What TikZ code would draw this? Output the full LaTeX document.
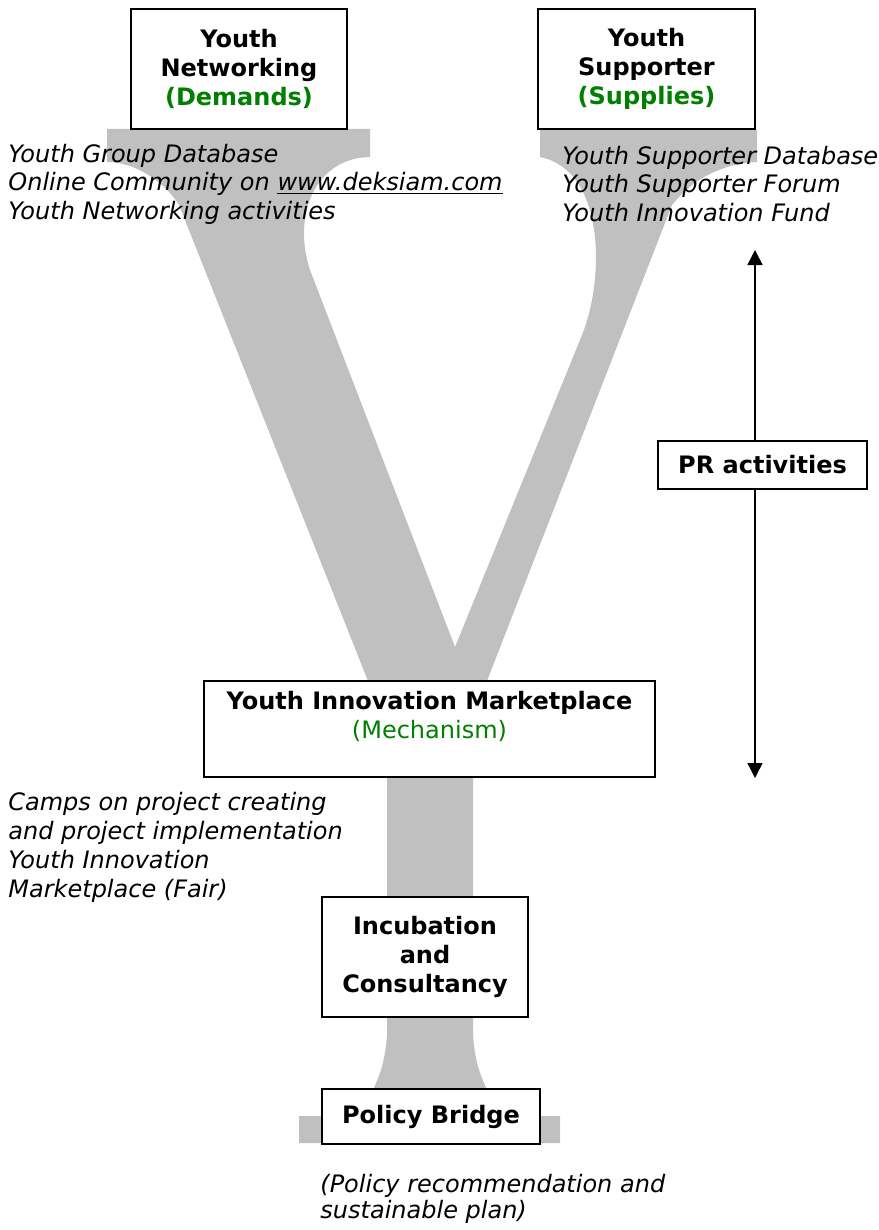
\documentclass[tikz,border=0pt]{standalone}
\usepackage{fontspec}
\setmainfont{DejaVu Sans}
\usetikzlibrary{positioning}
\usetikzlibrary{arrows.meta}
\definecolor{ygray}{RGB}{192,192,192}
\definecolor{ygreen}{RGB}{0,128,0}
\tikzstyle{ybox} = [draw, fill=white, line width=0.75pt, align=center, inner sep=0pt, font=\fontsize{12}{14.5}\selectfont\bfseries]
\tikzstyle{notes} = [anchor=west, align=left, inner sep=0pt, font=\fontsize{12}{14.25}\selectfont\itshape]
\tikzstyle{prarrow} = [line width=0.75pt, -{Triangle[width=7.5pt,length=7.5pt]}]

\begin{document}
\begin{tikzpicture}[x=0.5pt, y=-0.5pt]
  \useasboundingbox (0,0) rectangle (878,1230);

  % the big grey Y behind everything
  \fill[ygray] (107,129) -- (370,129) -- (370,157)
    .. controls (315,158) and (292,215) .. (310,270) -- (455,647)
    -- (582,335) .. controls (605,278) and (605,170) .. (540,157)
    -- (540,130) -- (757,130) -- (757,162)
    .. controls (715,164) and (688,185) .. (672,205) -- (487,681)
    -- (473,717) -- (473,1035)
    .. controls (475,1065) and (482,1080) .. (492,1100)
    -- (492,1116) -- (560,1116) -- (560,1143) -- (299,1143) -- (299,1116)
    -- (368,1116) -- (368,1100)
    .. controls (378,1080) and (385,1065) .. (387,1035)
    -- (387,729) -- (368,681) -- (179,205)
    .. controls (165,182) and (135,162) .. (107,162) -- cycle;

  \node[ybox, minimum width=108pt, minimum height=60pt] (net) at (239,69)
    {Youth\\Networking\\\textcolor{ygreen}{(Demands)}};
  \node[ybox, minimum width=108.5pt, minimum height=60pt] (sup) at (646.5,69)
    {Youth\\Supporter\\\textcolor{ygreen}{(Supplies)}};

  \node[notes] (netlist) at (8,184)
    {Youth Group Database\\Online Community on \underline{www.deksiam.com}\\Youth Networking activities};
  \node[notes] (suplist) at (562,184)
    {Youth Supporter Database\\Youth Supporter Forum\\Youth Innovation Fund};

  \node[ybox, minimum width=225.5pt, minimum height=48pt] (market) at (429.5,729) {};
  \node[ybox, draw=none, fill=none] (markettext) at (429.5,716)
    {Youth Innovation Marketplace\\\textcolor{ygreen}{\mdseries(Mechanism)}};
  \node[notes, font=\fontsize{12}{14.5}\selectfont\itshape] (camps) at (8,847)
    {Camps on project creating\\and project implementation\\Youth Innovation\\Marketplace (Fair)};

  \node[ybox, minimum width=103pt, minimum height=60pt] (inc) at (425,957)
    {Incubation\\and\\Consultancy};
  \node[ybox, minimum width=109pt, minimum height=27.5pt] (policy) at (431,1116.5)
    {Policy Bridge};
  \node[notes, font=\fontsize{12}{13}\selectfont\itshape] (policynote) at (320,1199)
    {(Policy recommendation and\\sustainable plan)};

  \node[ybox, minimum width=104.5pt, minimum height=24pt] (pr) at (762.5,465) {PR activities};
  \coordinate (prtop) at (755,250);
  \coordinate (prbot) at (755,778);
  \draw[prarrow] (pr.north -| prtop) -- (prtop);
  \draw[prarrow] (pr.south -| prbot) -- (prbot);
\end{tikzpicture}
\end{document}
